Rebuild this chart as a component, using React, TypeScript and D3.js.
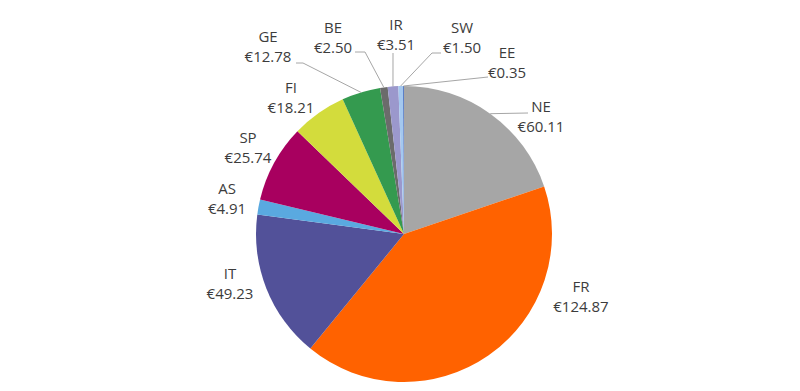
import * as d3 from 'd3'

const countries = ['NE', 'FR', 'IT', 'AS', 'SP', 'FI', 'GE', 'BE', 'IR', 'SW', 'EE'];
const amounts = [60.11, 124.87, 49.23, 4.91, 25.74, 18.21, 12.78, 2.50, 3.51, 1.50, 0.35];
const colors = ['#a6a6a6', '#ff6200', '#525199', '#5aa9e0', '#a8005f', '#d3dc3c', '#349a4f', '#6b6b6b', '#9b98cc', '#a4c8ef', '#5b7fc7'];

// label layout: centre x, first baseline, and the leader line start (if any)
const labelLayout: {x: number; y: number; leader?: [number, number][]}[] = [
  {x: 541, y: 112, leader: [[528, 113]]},
  {x: 581, y: 292},
  {x: 230, y: 279},
  {x: 227, y: 194},
  {x: 248, y: 143},
  {x: 291, y: 93},
  {x: 268, y: 42, leader: [[296, 63], [303, 63]]},
  {x: 333, y: 33, leader: [[355, 52], [365, 52]]},
  {x: 396, y: 30, leader: [[393, 53]]},
  {x: 462, y: 33, leader: [[441, 53], [432, 53]]},
  {x: 507, y: 58, leader: [[488, 77]]},
];

const width = 800;
const height = 391;
const cx = 404;
const cy = 234;
const radius = 148;

const App = () => {
  const arcs = d3.pie<number>().sort(null).value(d => d)(amounts);
  const arc = d3.arc<d3.PieArcDatum<number>>().innerRadius(0).outerRadius(radius);
  const line = d3.line();

  return (
    <svg width={width} height={height} style={{position: 'absolute', left: 0, top: 0}}
      fontFamily="'Open Sans', sans-serif" fontSize="15px">
      <rect width={width} height={height} fill="#ffffff" />
      <g transform={`translate(${cx},${cy})`}>
        {arcs.map((d, i) => (
          <path key={countries[i]} d={arc(d) || ''} fill={colors[i]} />
        ))}
      </g>
      {arcs.map((d, i) => {
        const lay = labelLayout[i];
        if (!lay.leader) return null;
        const mid = (d.startAngle + d.endAngle) / 2;
        const end: [number, number] = [cx + radius * Math.sin(mid), cy - radius * Math.cos(mid)];
        return (
          <path key={'l' + i} d={line([...lay.leader, end]) || ''} fill="none" stroke="#a6a6a6" strokeWidth={1} />
        );
      })}
      {labelLayout.map((lay, i) => (
        <text key={'t' + i} x={lay.x} y={lay.y} textAnchor="middle" fill="#3c3c3c">
          <tspan x={lay.x}>{countries[i]}</tspan>
          <tspan x={lay.x} dy={20}>{'€' + amounts[i].toFixed(2)}</tspan>
        </text>
      ))}
    </svg>
  )
}

export default App
